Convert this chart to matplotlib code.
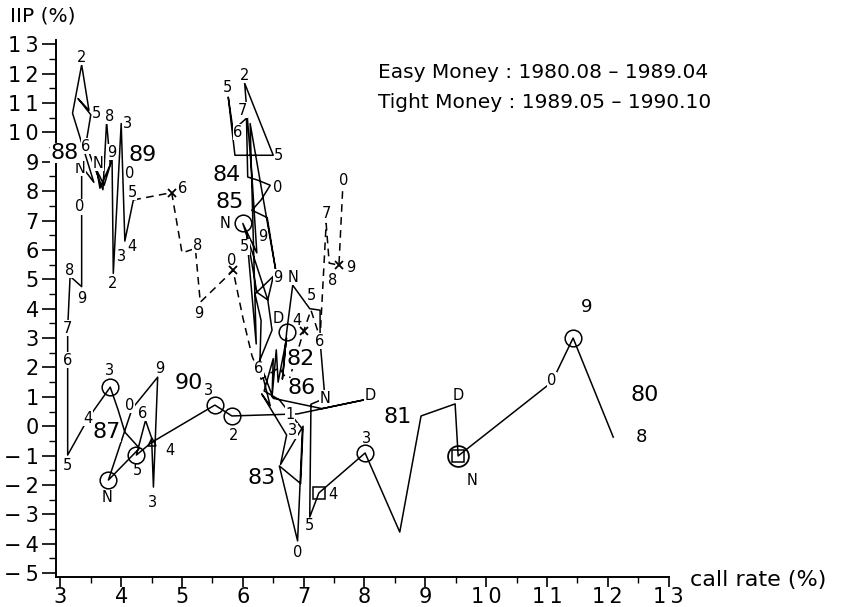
import matplotlib.pyplot as plt
from matplotlib.ticker import MultipleLocator, FuncFormatter

# call rate (%) and IIP growth (%) by month
rate_1980 = [12.09, 11.43, 11.08, 9.54, 9.49]                      # Aug-Dec
iip_1980 = [-0.37, 3.00, 1.50, -1.01, 0.76]
rate_1981 = [8.93, 8.58, 8.01, 7.25, 7.10, 7.12, 7.35, 7.27, 7.27, 7.10, 6.82, 6.72]
iip_1981 = [0.35, -3.60, -0.91, -2.27, -3.09, 0.75, 0.95, 2.90, 3.95, 4.00, 4.80, 3.20]
rate_1982 = [6.65, 6.72, 6.58, 6.55, 6.48, 6.50, 6.35, 6.60, 6.98, 6.90, 6.60, 6.95]
iip_1982 = [1.60, 3.00, 1.50, 2.60, 1.00, 2.30, 1.20, 0.90, -0.10, -3.90, -1.35, -1.95]
rate_1983 = [6.99, 6.62, 6.72, 6.31, 6.45, 6.28, 6.30, 6.20, 6.50, 6.41, 6.00, 6.23]
iip_1983 = [0.00, -1.30, -0.30, 1.10, 0.70, 2.10, 3.60, 4.50, 5.10, 4.30, 6.90, 5.90]
rate_1984 = [6.15, 6.03, 6.50, 5.87, 5.76, 5.84, 6.06, 6.08, 6.25, 6.45, 6.30, 6.15]
iip_1984 = [8.50, 11.67, 9.22, 9.22, 11.20, 10.07, 10.48, 8.48, 8.37, 8.20, 7.70, 7.35]
rate_1985 = [6.40, 6.56, 6.12, 6.22, 6.06, 6.23, 6.41, 6.48, 6.27, 6.50, 7.30, 8.00]
iip_1985 = [7.10, 5.07, 10.30, 2.80, 6.60, 4.56, 4.30, 3.27, 2.20, 0.95, 0.60, 0.90]
rate_1986 = [6.90, 5.82, 5.54, 4.50, 4.25, 4.40, 4.50, 4.53, 4.60, 4.18, 3.79, 4.30]
iip_1986 = [0.42, 0.35, 0.72, -0.55, -0.98, 0.20, -0.40, -2.07, 1.67, 0.60, -1.83, -0.75]
rate_1987 = [4.06, 3.95, 3.82, 3.46, 3.12, 3.12, 3.12, 3.16, 3.35, 3.35, 3.35, 3.55]
iip_1987 = [-0.20, 0.55, 1.33, 0.28, -0.98, 2.25, 3.34, 5.10, 4.75, 7.46, 8.85, 8.30]
rate_1988 = [3.20, 3.35, 3.47, 3.29, 3.50, 3.42, 3.70, 3.76, 3.82, 3.65, 3.60, 3.72]
iip_1988 = [10.65, 12.30, 10.75, 11.15, 10.60, 9.60, 8.05, 10.35, 8.90, 8.10, 8.70, 8.20]
rate_1989 = [3.85, 3.87, 4.00, 4.06, 4.20, 4.83, 5.00, 5.22, 5.30, 5.84, 6.00, 6.15]
iip_1989 = [9.10, 5.20, 10.30, 6.30, 7.70, 7.95, 5.90, 6.05, 4.22, 5.30, 3.70, 2.40]
rate_1990 = [6.30, 6.60, 6.75, 7.00, 7.12, 7.27, 7.37, 7.42, 7.58, 7.64]   # Jan-Oct
iip_1990 = [1.60, 2.00, 1.50, 3.24, 3.95, 3.00, 6.90, 5.55, 5.48, 8.00]

first_month = {'80': 8}
last_month = {'90': 10}
years = ['80', '81', '82', '83', '84', '85', '86', '87', '88', '89', '90']

rate = (rate_1980 + rate_1981 + rate_1982 + rate_1983 + rate_1984 + rate_1985
        + rate_1986 + rate_1987 + rate_1988 + rate_1989 + rate_1990)
iip = (iip_1980 + iip_1981 + iip_1982 + iip_1983 + iip_1984 + iip_1985
       + iip_1986 + iip_1987 + iip_1988 + iip_1989 + iip_1990)
months = []
for yy in years:
    for mm in range(first_month.get(yy, 1), last_month.get(yy, 12) + 1):
        months.append(f'{yy}.{mm:02d}')

tight_start = months.index('89.05')

circle_months = ['80.09', '81.03', '81.12', '83.11', '86.02', '86.03', '86.05', '86.11', '87.03']
big_circle_months = ['80.11']
square_months = ['80.11', '81.04']
triangle_months = ['86.04']
cross_months = ['89.06', '89.10', '90.04', '90.09']

# month labels (1-9, 0=Oct, N=Nov, D=Dec) as printed on the chart
month_labels = [
    ('0', 11.08, 1.57), ('D', 9.54, 1.06), ('N', 9.77, -1.83),
    ('3', 8.04, -0.40), ('4', 7.48, -2.31), ('5', 7.10, -3.39), ('0', 6.91, -4.31),
    ('3', 6.82, -0.16), ('1', 6.77, 0.41), ('2', 5.84, -0.30), ('3', 5.44, 1.20),
    ('N', 7.35, 0.96), ('D', 8.09, 1.03), ('6', 6.26, 1.95), ('D', 6.58, 3.68),
    ('4', 6.89, 3.61), ('6', 7.26, 2.90), ('5', 7.12, 4.46), ('9', 6.58, 5.07),
    ('N', 6.82, 5.07), ('8', 7.47, 4.97), ('9', 7.78, 5.41), ('7', 7.38, 7.25),
    ('0', 7.65, 8.37), ('5', 6.03, 6.10), ('0', 5.82, 5.65), ('9', 5.28, 3.85),
    ('8', 5.25, 6.16), ('6', 5.01, 8.10), ('5', 4.18, 7.97), ('4', 4.18, 6.10),
    ('3', 4.01, 5.76), ('2', 3.86, 4.87), ('9', 3.35, 4.36), ('8', 3.16, 5.31),
    ('0', 3.32, 7.46), ('N', 3.32, 8.78), ('N', 3.62, 8.95), ('9', 3.85, 9.33),
    ('0', 4.14, 8.61), ('6', 3.42, 9.53), ('5', 3.60, 10.65), ('8', 3.81, 10.55),
    ('3', 4.11, 10.31), ('2', 3.35, 12.56), ('7', 3.12, 3.34), ('6', 3.12, 2.25),
    ('5', 3.12, -1.32), ('4', 3.45, 0.28), ('3', 3.81, 1.91), ('0', 4.14, 0.72),
    ('N', 3.76, -2.41), ('6', 4.36, 0.45), ('5', 4.26, -1.49), ('9', 4.64, 1.98),
    ('4', 4.80, -0.81), ('3', 4.52, -2.58), ('5', 5.74, 11.54), ('2', 6.03, 11.95),
    ('7', 6.00, 10.76), ('6', 5.92, 10.01), ('5', 6.59, 9.22), ('0', 6.58, 8.14),
    ('N', 5.71, 6.91), ('9', 6.33, 6.44),
]
big_month_labels = [('8', 12.55, -0.37), ('9', 11.66, 4.05)]

year_labels = [
    ('80', 12.61, 1.06), ('81', 8.55, 0.31), ('82', 6.95, 2.30), ('83', 6.31, -1.76),
    ('84', 5.74, 8.54), ('85', 5.79, 7.63), ('86', 6.97, 1.30), ('87', 3.76, -0.20),
    ('88', 3.07, 9.29), ('89', 4.36, 9.22), ('90', 5.11, 1.47),
]

fig = plt.figure(figsize=(8.41, 6.07), dpi=100)
ax = fig.add_axes([0.066, 0.0494, 0.729, 0.8846])

ax.plot(rate[:tight_start + 1], iip[:tight_start + 1], color='black', lw=1.1, zorder=2)
ax.plot(rate[tight_start:], iip[tight_start:], color='black', lw=1.1,
        linestyle=(0, (5, 3.5)), zorder=2)


def pick(keys):
    idx = [months.index(k) for k in keys]
    return [rate[i] for i in idx], [iip[i] for i in idx]


cx, cy = pick(circle_months)
ax.plot(cx, cy, 'o', ms=12, mfc='none', mec='black', mew=1.1, zorder=5)
bx, by = pick(big_circle_months)
ax.plot(bx, by, 'o', ms=15, mfc='none', mec='black', mew=1.3, zorder=5)
sx, sy = pick(square_months)
ax.plot(sx, sy, 's', ms=8, mfc='none', mec='black', mew=1.1, zorder=5)
tx, ty = pick(triangle_months)
ax.plot(tx, ty, '^', ms=6, mfc='none', mec='black', mew=1.1, zorder=5)
xx, xy = pick(cross_months)
ax.plot(xx, xy, 'x', ms=6, mec='black', mew=1.3, zorder=5)


def spaced(s):
    return '\u2009'.join(s)


box = dict(facecolor='white', edgecolor='none', pad=0.2)
for txt, x, y in month_labels:
    ax.text(x, y, txt, fontsize=10.5, ha='center', va='center', bbox=box, zorder=3)
for txt, x, y in big_month_labels:
    ax.text(x, y, txt, fontsize=13, ha='center', va='center', bbox=box, zorder=3)
for txt, x, y in year_labels:
    ax.text(x, y, txt, fontsize=16, ha='center', va='center', bbox=box, zorder=3)

ax.set_xlim(2.92, 13.0)
ax.set_ylim(-5.13, 13.14)
ax.xaxis.set_major_locator(MultipleLocator(1))
ax.xaxis.set_minor_locator(MultipleLocator(0.5))
ax.yaxis.set_major_locator(MultipleLocator(1))
ax.yaxis.set_minor_locator(MultipleLocator(0.5))
tick_fmt = FuncFormatter(lambda v, pos: spaced(f'{v:.0f}'.replace('-', '\u2212')))
ax.xaxis.set_major_formatter(tick_fmt)
ax.yaxis.set_major_formatter(tick_fmt)
ax.spines['top'].set_visible(False)
ax.spines['right'].set_visible(False)
ax.spines['left'].set_linewidth(1.4)
ax.spines['bottom'].set_linewidth(1.4)
ax.tick_params(axis='x', which='major', direction='out', length=7, width=1.2,
               labelsize=15, pad=0)
ax.tick_params(axis='x', which='minor', direction='out', length=4, width=1.0)
ax.tick_params(axis='y', which='major', direction='out', length=10, width=1.2,
               labelsize=15, pad=2)
ax.tick_params(axis='y', which='minor', direction='out', length=5, width=1.0)

fig.text(378 / 841, 1 - 72 / 607, 'Easy Money : 1980.08 \u2013 1989.04',
         fontsize=14.5, ha='left', va='center')
fig.text(378 / 841, 1 - 102 / 607, 'Tight Money : 1989.05 \u2013 1990.10',
         fontsize=14.5, ha='left', va='center')
fig.text(10 / 841, 1 - 16 / 607, 'IIP (%)', fontsize=14.5, ha='left', va='center')
fig.text(690 / 841, 1 - 580 / 607, 'call rate (%)', fontsize=16, ha='left', va='center')

fig.savefig('out.png', dpi=100)
